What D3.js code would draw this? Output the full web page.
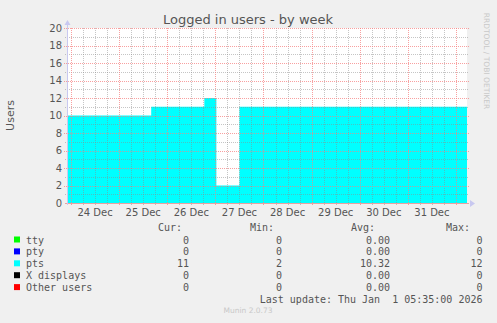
<!DOCTYPE html>
<html>
<head>
<meta charset="utf-8">
<title>Logged in users - by week</title>
<script src="https://d3js.org/d3.v7.min.js"></script>
<style>
body {margin: 0; background: #f0f0f0;}
svg {display: block;}
.mono {font-family: "DejaVu Sans Mono", monospace; font-size: 10px; fill: #555;}
.sans {font-family: "DejaVu Sans", sans-serif;}
</style>
</head>
<body>
<svg id="chart" width="497" height="323"></svg>
<script>
// data
var startTime = "2025-12-23T22:00:00Z";
var endTime = "2026-01-01T05:30:00Z";
var stepTimes = ["2025-12-23T22:00:00Z", "2025-12-25T16:00:00Z", "2025-12-26T18:30:00Z", "2025-12-27T00:30:00Z", "2025-12-27T12:00:00Z", "2026-01-01T05:30:00Z"];
var ptsValues = [10, 11, 12, 2, 11, 11];
var yTicks = [0, 2, 4, 6, 8, 10, 12, 14, 16, 18, 20];

var seriesNames = ["tty", "pty", "pts", "X displays", "Other users"];
var seriesColors = ["#00ff00", "#0000ff", "#00ffff", "#000000", "#ff0000"];
var curValues = ["0", "0", "11", "0", "0"];
var minValues = ["0", "0", "2", "0", "0"];
var avgValues = ["0.00", "0.00", "10.32", "0.00", "0.00"];
var maxValues = ["0", "0", "12", "0", "0"];

var svg = d3.select("#chart");
const pLeft = 67, pRight = 467, pTop = 28, pBottom = 203;

var x = d3.scaleUtc().domain([new Date(startTime), new Date(endTime)]).range([pLeft, pRight]);
var y = d3.scaleLinear().domain([0, 20]).range([pBottom, pTop]);

// plot background
svg.append("rect").attr("x", pLeft).attr("y", pTop).attr("width", pRight - pLeft).attr("height", pBottom - pTop).attr("fill", "#fff");

// pts area
var pts = stepTimes.map((t, i) => ({t: new Date(t), v: ptsValues[i]}));
var area = d3.area().curve(d3.curveStepAfter).x(d => x(d.t)).y0(y(0)).y1(d => y(d.v));
svg.append("path").datum(pts).attr("d", area).attr("fill", "#00ffff");

// grid on top, drawn as dotted 1px lines (rrdtool-like translucent colours)
var minorCol = "rgba(140,140,140,0.5)", majorCol = "rgba(245,128,128,0.75)";
var grid = svg.append("g");
var majorX = x.ticks(d3.utcDay.every(1));
var minorX = x.ticks(d3.utcHour.every(6)).filter(d => d.getUTCHours() != 0);
var minorY = d3.range(1, 21, 2);
function vline(g, data, col, ext) {
    g.selectAll(null).data(data).enter().append("line")
        .attr("x1", d => Math.round(x(d)) + 0.5).attr("x2", d => Math.round(x(d)) + 0.5)
        .attr("y1", pTop).attr("y2", pBottom + ext)
        .attr("stroke", col).attr("stroke-width", 1).attr("stroke-dasharray", "1,1");
}
function hline(g, data, col, ext) {
    g.selectAll(null).data(data).enter().append("line")
        .attr("x1", pLeft - ext).attr("x2", pRight + ext)
        .attr("y1", d => Math.round(y(d)) + 0.5).attr("y2", d => Math.round(y(d)) + 0.5)
        .attr("stroke", col).attr("stroke-width", 1).attr("stroke-dasharray", "1,1");
}
vline(grid, minorX, minorCol, 2);
hline(grid, minorY, minorCol, 2);
vline(grid, majorX, majorCol, 3);
hline(grid, yTicks.slice(1), majorCol, 3);

// axes lines with arrows
svg.append("line").attr("x1", pLeft - 2).attr("x2", pRight + 2).attr("y1", pBottom + 0.5).attr("y2", pBottom + 0.5).attr("stroke", "#eaa0a0");
svg.append("line").attr("x1", pLeft + 0.5).attr("x2", pLeft + 0.5).attr("y1", pBottom + 2).attr("y2", pTop - 4).attr("stroke", "#c8c8f0");
svg.append("path").attr("d", `M${pLeft - 2.5},${pTop - 3}L${pLeft + 3.5},${pTop - 3}L${pLeft + 0.5},${pTop - 8}Z`).attr("fill", "#c8c8f0");
svg.append("path").attr("d", `M${pRight + 3},${pBottom - 3}L${pRight + 3},${pBottom + 4}L${pRight + 8},${pBottom + 0.5}Z`).attr("fill", "#c8c8f0");

// tick labels
svg.selectAll(".yl").data(yTicks).enter().append("text").attr("class", "sans")
    .attr("x", pLeft - 5).attr("y", d => y(d) + 3.5).attr("text-anchor", "end")
    .attr("font-size", 10).attr("fill", "#555").text(d => d);
var labelDays = majorX.filter(d => d3.utcHour.offset(d, 12) < x.domain()[1]);
svg.selectAll(".xl").data(labelDays).enter().append("text").attr("class", "sans")
    .attr("x", d => x(d3.utcHour.offset(d, 12))).attr("y", 216).attr("text-anchor", "middle")
    .attr("font-size", 10).attr("fill", "#555").text(d => d3.utcFormat("%-d %b")(d));

// titles
svg.append("text").attr("class", "sans").attr("x", 248).attr("y", 24).attr("text-anchor", "middle")
    .attr("font-size", 13).attr("fill", "#555").text("Logged in users - by week");
svg.append("text").attr("class", "sans").attr("transform", "translate(14,115.5) rotate(-90)")
    .attr("text-anchor", "middle").attr("font-size", 11).attr("fill", "#555").text("Users");
svg.append("text").attr("class", "sans").attr("transform", "translate(484,61) rotate(90)")
    .attr("text-anchor", "middle").attr("font-size", 7.5).attr("fill", "#c8c8c8").text("RRDTOOL / TOBI OETIKER");

// legend
var legend = svg.append("g");
var headers = [["Cur:", 182], ["Min:", 274], ["Avg:", 375], ["Max:", 470]];
headers.forEach(h => legend.append("text").attr("class", "mono").attr("x", h[1]).attr("y", 231).attr("text-anchor", "end").text(h[0]));
var rowY = i => 243.5 + i * 11.9;
seriesNames.forEach((name, i) => {
    legend.append("rect").attr("x", 14).attr("y", rowY(i) - 7).attr("width", 6).attr("height", 6).attr("fill", seriesColors[i]);
    legend.append("text").attr("class", "mono").attr("x", 26).attr("y", rowY(i)).text(name);
    [[curValues, 189], [minValues, 282], [avgValues, 390], [maxValues, 482.5]].forEach(c => {
        legend.append("text").attr("class", "mono").attr("x", c[1]).attr("y", rowY(i)).attr("text-anchor", "end").text(c[0][i]);
    });
});
legend.append("text").attr("class", "mono").attr("x", 482.5).attr("y", 303).attr("text-anchor", "end")
    .attr("xml:space", "preserve").style("white-space", "pre").text("Last update: Thu Jan  1 05:35:00 2026");
svg.append("text").attr("class", "sans").attr("x", 248).attr("y", 313).attr("text-anchor", "middle")
    .attr("font-size", 7.5).attr("fill", "#c8c8c8").text("Munin 2.0.73");
</script>
</body>
</html>
